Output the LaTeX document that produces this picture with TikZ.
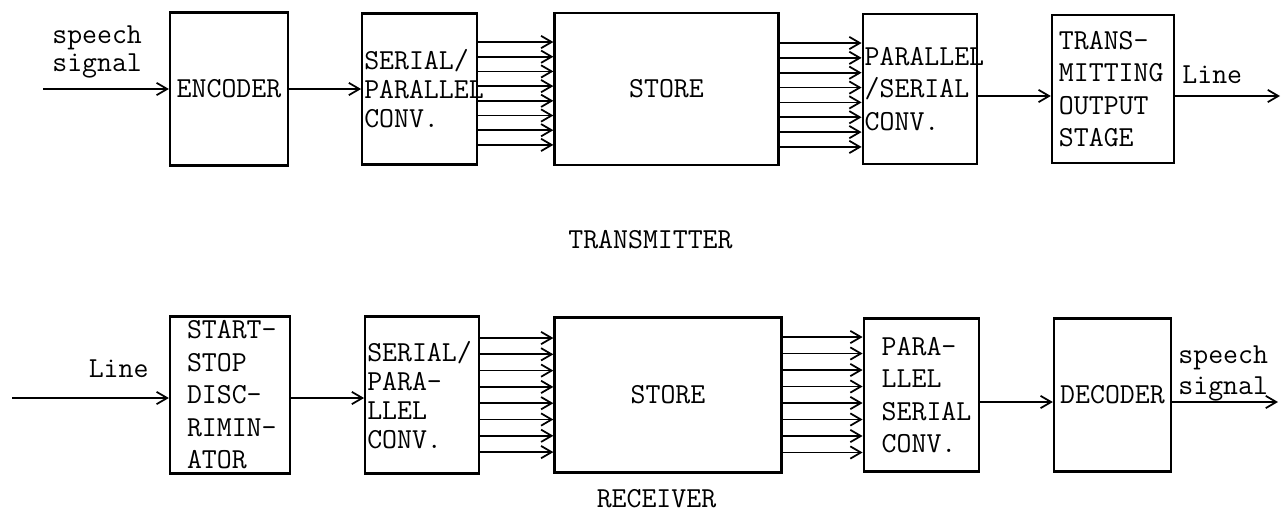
\documentclass[tikz,border=0pt]{standalone}
\usepackage{fontspec}
\usetikzlibrary{positioning,arrows.meta}
\hyphenpenalty=10000
\hbadness=10000
\hfuzz=2cm

\begin{document}
\begin{tikzpicture}[
      x=0.02cm, y=-0.02cm,
      every node/.style={font=\ttfamily\fontsize{16.5}{18.5}\selectfont},
      blk/.style={draw, line width=1.3pt, inner ysep=0pt, align=left},
      tight/.style={font=\ttfamily\fontsize{16.5}{16.5}\selectfont},
      lbl/.style={inner sep=0pt},
      arr/.style={-{Straight Barb[length=6pt,width=7pt]}, line width=1pt},
    ]
    \useasboundingbox (0,0) rectangle (1285,515);

    % Transmitter row
    \node[blk, minimum height=3.06cm, text width=2.36cm, inner xsep=0pt, align=center] (enc) at (229,89) {ENCODER};
    \node[blk, tight, minimum height=3.02cm, text width=2.22cm, inner xsep=0.04cm, right=1.44cm of enc] (sp1) {SERIAL/\\PARALLEL\\CONV.};
    \node[blk, minimum height=3.04cm, text width=4.48cm, inner xsep=0pt, align=center, right=1.5cm of sp1] (st1) {STORE};
    \node[blk, minimum height=3.0cm, text width=2.20cm, inner xsep=0.04cm, right=1.64cm of st1] (ps1) {PARALLEL\\/SERIAL\\CONV.};
    \node[blk, minimum height=2.96cm, text width=2.16cm, inner xsep=0.14cm, right=1.46cm of ps1] (tx) {TRANS-\\MITTING\\OUTPUT\\STAGE};

    % Receiver row
    \node[blk, minimum height=3.14cm, text width=1.72cm, inner xsep=0.34cm] (ssd) at (230,395) {START-\\STOP\\DISC-\\RIMIN-\\ATOR};
    \node[blk, tight, minimum height=3.14cm, text width=2.20cm, inner xsep=0.04cm, right=1.46cm of ssd] (sp2) {SERIAL/\\PARA-\\LLEL\\CONV.};
    \node[blk, minimum height=3.10cm, text width=4.54cm, inner xsep=0pt, align=center, right=1.46cm of sp2] (st2) {STORE};
    \node[blk, minimum height=3.06cm, text width=1.58cm, inner xsep=0.36cm, right=1.6cm of st2] (ps2) {PARA-\\LLEL\\SERIAL\\CONV.};
    \node[blk, minimum height=3.06cm, text width=2.34cm, inner xsep=0pt, align=center, right=1.46cm of ps2] (dec) {DECODER};

    % Line ends
    \coordinate (txin) at (43,89);
    \coordinate (txout) at (1280,96);
    \coordinate (rxin) at (12,398);
    \coordinate (rxout) at (1278,402);

    % Arrows, transmitter
    \draw[arr] (txin) -- (enc.west);
    \draw[arr] (enc) -- (sp1);
    \foreach \k in {0,...,7}
      \draw[arr] ([yshift=0.94cm-\k*0.294cm]sp1.east) -- ([yshift=0.94cm-\k*0.294cm]st1.west);
    \foreach \k in {0,...,7}
      \draw[arr] ([yshift=0.92cm-\k*0.297cm]st1.east) -- ([yshift=0.92cm-\k*0.297cm]ps1.west);
    \draw[arr] ([yshift=-0.14cm]ps1.east) -- ([yshift=-0.14cm]tx.west);
    \draw[arr] ([yshift=-0.14cm]tx.east) -- (txout);

    % Arrows, receiver
    \draw[arr] (rxin) -- ([yshift=-0.06cm]ssd.west);
    \draw[arr] ([yshift=-0.06cm]ssd.east) -- ([yshift=-0.06cm]sp2.west);
    \foreach \k in {0,...,7}
      \draw[arr] ([yshift=1.14cm-\k*0.326cm]sp2.east) -- ([yshift=1.14cm-\k*0.326cm]st2.west);
    \foreach \k in {0,...,7}
      \draw[arr] ([yshift=1.16cm-\k*0.33cm]st2.east) -- ([yshift=1.16cm-\k*0.33cm]ps2.west);
    \draw[arr] ([yshift=-0.14cm]ps2.east) -- ([yshift=-0.14cm]dec.west);
    \draw[arr] ([yshift=-0.14cm]dec.east) -- (rxout);

    % Labels
    \node[lbl, anchor=south west, align=left, font=\ttfamily\fontsize{16.5}{15.5}\selectfont] (txspeech) at ([xshift=0.18cm, yshift=0.22cm]txin) {speech\\signal};
    \node[lbl, anchor=base west] (txline) at ([xshift=0.14cm, yshift=0.12cm]tx.east) {Line};
    \node[lbl, below=1.28cm of st1, xshift=-0.32cm] (txlbl) {TRANSMITTER};
    \node[lbl, anchor=base east] (rxline) at ([xshift=-0.4cm, yshift=0.36cm]ssd.west) {Line};
    \node[lbl, anchor=south west, align=left, font=\ttfamily\fontsize{16.5}{17.6}\selectfont] (rxspeech) at ([xshift=0.12cm, yshift=-0.12cm]dec.east) {speech\\signal};
    \node[lbl, below=0.3cm of st2, xshift=-0.23cm] (rxlbl) {RECEIVER};
  \end{tikzpicture}
\end{document}
